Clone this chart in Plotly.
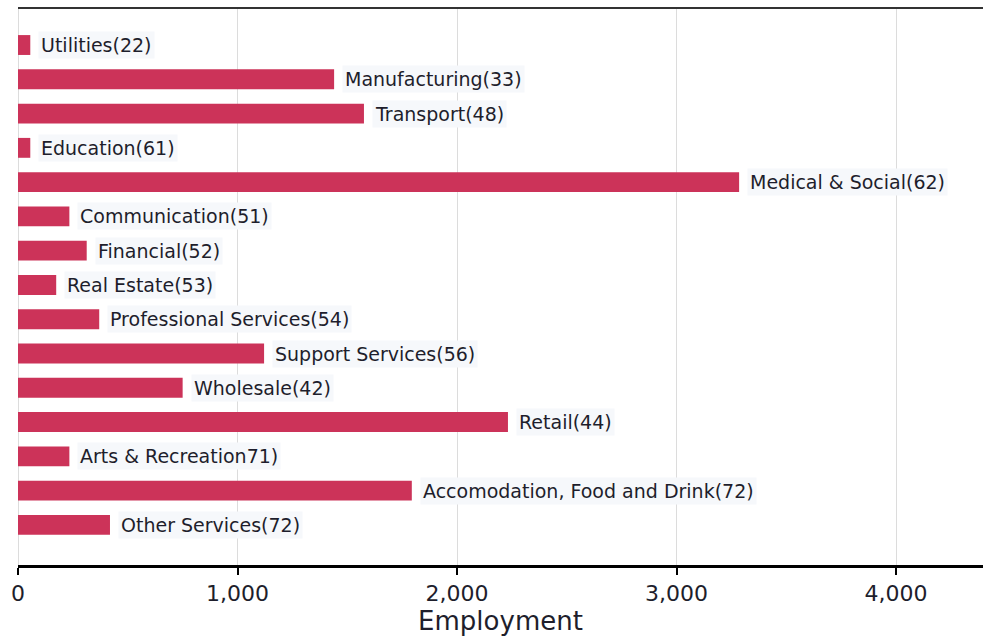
import plotly.graph_objects as go

categories = ["Utilities", "Manufacturing", "Transport", "Education", "Medical & Social",
              "Communication", "Financial", "Real Estate", "Professional Services",
              "Support Services", "Wholesale", "Retail", "Arts & Recreation",
              "Accomodation, Food and Drink", "Other Services"]
codes = ["(22)", "(33)", "(48)", "(61)", "(62)", "(51)", "(52)", "(53)", "(54)",
         "(56)", "(42)", "(44)", "71)", "(72)", "(72)"]
employment = [56, 1440, 1576, 56, 3285, 234, 313, 174, 370, 1121, 750, 2232, 234, 1794, 419]
tick_vals = [0, 1000, 2000, 3000, 4000]
tick_text = ["0", "1,000", "2,000", "3,000", "4,000"]

BAR = "#cc3359"
FONT = "DejaVu Sans"

fig = go.Figure(go.Bar(
    x=employment, y=categories, orientation="h",
    marker=dict(color=BAR, line=dict(width=0)),
    width=0.58, hoverinfo="x+y",
))

annotations = []
for cat, code, val in zip(categories, codes, employment):
    annotations.append(dict(
        x=val, y=cat, xref="x", yref="y", text=cat + code,
        showarrow=False, xanchor="left", yanchor="middle", xshift=8,
        font=dict(family=FONT, size=19, color="#1e1e2c"),
        bgcolor="#f6f8fb", borderpad=2,
    ))

fig.update_layout(
    width=983, height=638,
    margin=dict(l=18, r=0, t=8, b=73),
    paper_bgcolor="white", plot_bgcolor="white",
    showlegend=False,
    annotations=annotations,
    font=dict(family=FONT, color="#1e1e2c"),
    xaxis=dict(
        range=[0, 4396], tickvals=tick_vals, ticktext=tick_text,
        showgrid=True, gridcolor="#dcdcdc", gridwidth=1,
        zeroline=True, zerolinecolor="#dcdcdc", zerolinewidth=1,
        showline=True, linecolor="black", linewidth=2.5,
        ticks="outside", ticklen=7, tickwidth=2, tickcolor="black",
        tickfont=dict(family=FONT, size=22, color="#1e1e2c"),
        title=dict(text="Employment", font=dict(family=FONT, size=26, color="#1e1e2c"), standoff=0),
    ),
    yaxis=dict(
        range=[15.17, -1.08], showticklabels=False, showgrid=False,
        zeroline=False, showline=False, ticks="",
    ),
    shapes=[dict(type="line", xref="paper", yref="paper", x0=0, x1=1, y0=1, y1=1,
                 line=dict(color="#333333", width=2))],
)

fig.write_html(
    "out.html",
    config={"responsive": False, "displayModeBar": False},
    post_script="document.body.style.margin='0';document.body.style.overflow='hidden';",
)
